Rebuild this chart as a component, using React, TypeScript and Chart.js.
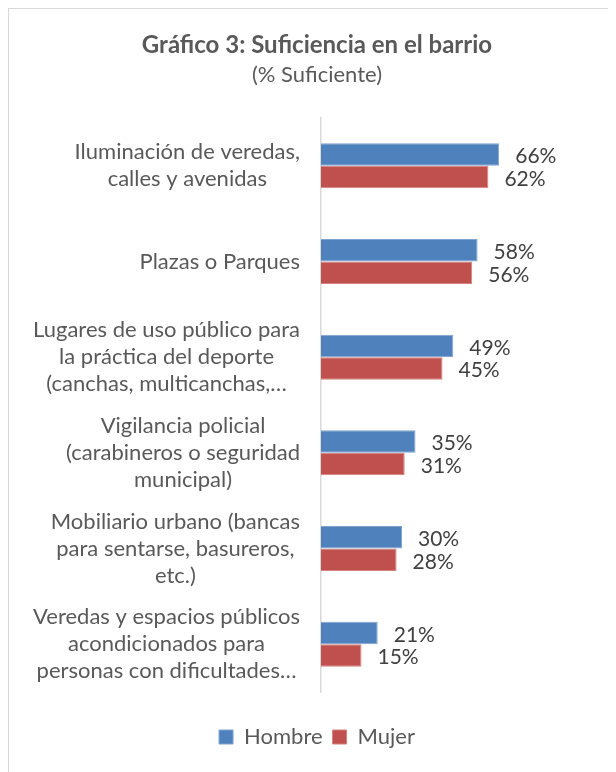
import React, { useEffect, useRef } from "react";
import { Chart, registerables } from "chart.js";

Chart.register(...registerables);

const categories: string[][] = [
  ["Iluminación de veredas,", "calles y avenidas"],
  ["Plazas o Parques"],
  ["Lugares de uso público para", "la práctica del deporte", "(canchas, multicanchas,…"],
  ["Vigilancia policial", "(carabineros o seguridad", "municipal)"],
  ["Mobiliario urbano (bancas", "para sentarse, basureros,", "etc.)"],
  ["Veredas y espacios públicos", "acondicionados para", "personas con dificultades…"],
];
const hombre = [0.66, 0.58, 0.49, 0.35, 0.3, 0.21];
const mujer = [0.62, 0.56, 0.45, 0.31, 0.28, 0.15];
const seriesNames = ["Hombre", "Mujer"];
const titleText = "Gráfico 3: Suficiencia en el barrio";
const subtitleText = "(% Suficiente)";

const FONT = "Lato, 'Open Sans', sans-serif";

const categoryLabelsPlugin = {
  id: "categoryLabels",
  afterDraw(chart: any) {
    const { ctx, chartArea, scales } = chart;
    const y = scales.y;
    ctx.save();
    ctx.font = `22px ${FONT}`;
    ctx.fillStyle = "#595959";
    ctx.textAlign = "center";
    ctx.textBaseline = "middle";
    const lh = 27;
    const right = chartArea.left - 21;
    categories.forEach((lines, i) => {
      const cy = y.getPixelForValue(i);
      const maxW = Math.max(...lines.map((l) => ctx.measureText(l).width));
      const cx = right - maxW / 2;
      lines.forEach((l, j) => {
        ctx.fillText(l, cx, cy + (j - (lines.length - 1) / 2) * lh);
      });
    });
    ctx.restore();
  },
};

const dataLabelsPlugin = {
  id: "dataLabels",
  afterDatasetsDraw(chart: any) {
    const { ctx } = chart;
    ctx.save();
    ctx.font = `21px ${FONT}`;
    ctx.fillStyle = "#404040";
    ctx.textAlign = "left";
    ctx.textBaseline = "middle";
    chart.data.datasets.forEach((ds: any, di: number) => {
      const meta = chart.getDatasetMeta(di);
      meta.data.forEach((el: any, i: number) => {
        const v = ds.data[i];
        ctx.fillText(Math.round(v * 100) + "%", el.x + 16, el.y + 2);
      });
    });
    ctx.restore();
  },
};

export default function App() {
  const ref = useRef<HTMLCanvasElement>(null);
  useEffect(() => {
    if (!ref.current) return;
    const chart = new Chart(ref.current, {
      type: "bar",
      data: {
        labels: categories.map((c) => c.join(" ")),
        datasets: [
          {
            label: seriesNames[0],
            data: hombre,
            backgroundColor: "#4F81BD",
            borderColor: "#7FA3D0",
            borderWidth: 1,
            categoryPercentage: 0.47,
            barPercentage: 1,
          },
          {
            label: seriesNames[1],
            data: mujer,
            backgroundColor: "#C0504D",
            borderColor: "#D4817F",
            borderWidth: 1,
            categoryPercentage: 0.47,
            barPercentage: 1,
          },
        ],
      },
      options: {
        indexAxis: "y",
        animation: false,
        responsive: true,
        maintainAspectRatio: false,
        layout: { padding: { top: 0, left: 34, right: 25, bottom: 14 } },
        scales: {
          x: {
            min: 0,
            max: 1,
            display: true,
            ticks: { display: false },
            grid: { display: false },
            border: { display: false },
            afterFit: (s: any) => {
              s.height = 24;
            },
          },
          y: {
            display: true,
            ticks: { display: false },
            grid: { display: false },
            border: { display: true, color: "#D9D9D9", width: 1.5 },
            afterFit: (s: any) => {
              s.width = 278;
            },
          },
        },
        plugins: {
          tooltip: { enabled: false },
          title: {
            display: true,
            text: titleText,
            color: "#595959",
            font: { family: FONT, size: 24, weight: "bold" },
            padding: { top: 21.6, bottom: 2.4 },
          },
          subtitle: {
            display: true,
            text: subtitleText,
            color: "#595959",
            font: { family: FONT, size: 22 },
            padding: { top: 0, bottom: 29.8 },
          },
          legend: {
            position: "bottom",
            labels: {
              boxWidth: 14,
              boxHeight: 14,
              color: "#595959",
              font: { family: FONT, size: 22 },
              padding: 10,
            },
          },
        },
      },
      plugins: [categoryLabelsPlugin, dataLabelsPlugin],
    } as any);
    return () => chart.destroy();
  }, []);
  return (
    <div
      style={{
        position: "relative",
        width: 608,
        height: 764,
        borderLeft: "1px solid #D9D9D9",
        borderTop: "1px solid #D9D9D9",
        boxSizing: "border-box",
        background: "#fff",
      }}
    >
      <canvas ref={ref} />
    </div>
  );
}
